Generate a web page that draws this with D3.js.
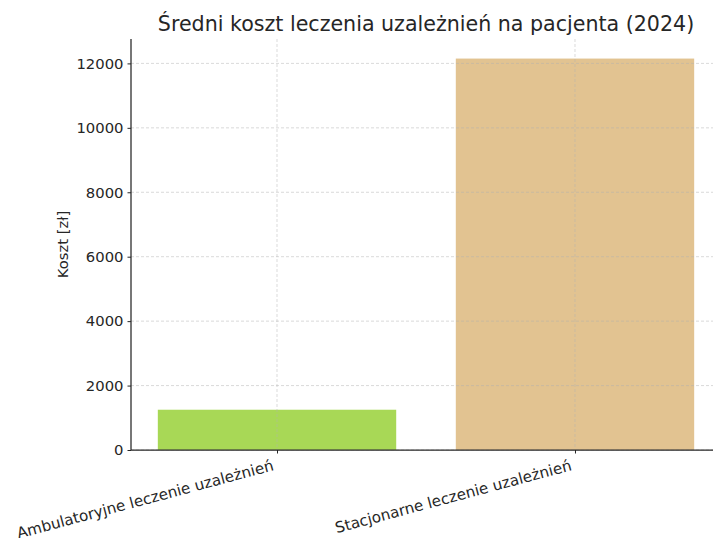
<!DOCTYPE html>
<html>
<head>
<meta charset="utf-8">
<script src="https://cdn.jsdelivr.net/npm/d3@7"></script>
<style>
  html, body { margin: 0; padding: 0; background: #fff; }
  svg { display: block; }
  svg text { font-family: "DejaVu Sans", sans-serif; }
</style>
</head>
<body>
<svg id="chart" width="713" height="538"></svg>
<script>
// Average cost of addiction treatment per patient, 2024
const categories = ["Ambulatoryjne leczenie uzależnień", "Stacjonarne leczenie uzależnień"];
const costs = [1250, 12150];
const barColors = ["#a8d856", "#e2c391"];
const yTicks = [0, 2000, 4000, 6000, 8000, 10000, 12000];
const titleText = "Średni koszt leczenia uzależnień na pacjenta (2024)";
const yLabel = "Koszt [zł]";

const svg = d3.select("#chart");
const m = { left: 131, bottom: 450, top: 39, right: 721 };
const font = "DejaVu Sans, sans-serif";
const ink = "#262626";

// Categorical axis as a continuous index scale with bar width 0.8
const x = d3.scaleLinear().domain([-0.49, categories.length - 1 + 0.49]).range([m.left, m.right]);
const y = d3.scaleLinear().domain([0, d3.max(costs) * 1.05]).range([m.bottom, m.top]);

// Bars
svg.append("g").selectAll("rect").data(costs).join("rect")
  .attr("x", (d, i) => x(i - 0.4))
  .attr("width", (d, i) => x(i + 0.4) - x(i - 0.4))
  .attr("y", d => y(d))
  .attr("height", d => y(0) - y(d))
  .attr("fill", (d, i) => barColors[i]);

// Grid lines over the bars
const grid = svg.append("g").attr("stroke", "#b0b0b0").attr("stroke-opacity", 0.6)
  .attr("stroke-width", 0.8).attr("stroke-dasharray", "3,2");
grid.selectAll("line.h").data(yTicks).join("line").attr("class", "h")
  .attr("x1", m.left).attr("x2", 713).attr("y1", d => y(d)).attr("y2", d => y(d));
grid.selectAll("line.v").data(categories).join("line").attr("class", "v")
  .attr("x1", (d, i) => x(i)).attr("x2", (d, i) => x(i)).attr("y1", m.top).attr("y2", m.bottom);

// Y axis
const yAxis = svg.append("g").attr("transform", `translate(${m.left},0)`)
  .call(d3.axisLeft(y).tickValues(yTicks).tickFormat(d3.format("d")).tickSize(3.5).tickPadding(4));
yAxis.attr("font-family", font).attr("font-size", 14.8);
yAxis.select(".domain").remove();
yAxis.selectAll("text").attr("fill", ink);
yAxis.selectAll("line").attr("stroke", ink);

// X axis with rotated category labels
const xAxis = svg.append("g").attr("transform", `translate(0,${m.bottom})`)
  .call(d3.axisBottom(x).tickValues(d3.range(categories.length)).tickFormat(i => categories[i]).tickSize(3.5));
xAxis.attr("font-family", font).attr("font-size", 15.2);
xAxis.select(".domain").remove();
xAxis.selectAll("line").attr("stroke", ink);
xAxis.selectAll("text")
  .attr("fill", ink)
  .attr("text-anchor", "end").attr("dy", null).attr("y", 0)
  .attr("transform", "translate(-3,20) rotate(-15)");

// Spines: left and bottom
svg.append("line").attr("x1", m.left).attr("x2", m.left).attr("y1", m.top).attr("y2", m.bottom)
  .attr("stroke", ink).attr("stroke-width", 1.25);
svg.append("line").attr("x1", m.left).attr("x2", m.right).attr("y1", m.bottom).attr("y2", m.bottom)
  .attr("stroke", ink).attr("stroke-width", 1.25);

// Y label
svg.append("text").attr("transform", `translate(68,${(m.top + m.bottom) / 2}) rotate(-90)`)
  .attr("text-anchor", "middle").attr("font-size", 14.8).attr("fill", ink).text(yLabel);

// Title
svg.append("text").attr("x", (m.left + m.right) / 2).attr("y", 31)
  .attr("text-anchor", "middle").attr("font-size", 20.6).attr("fill", ink).text(titleText);
</script>
</body>
</html>
